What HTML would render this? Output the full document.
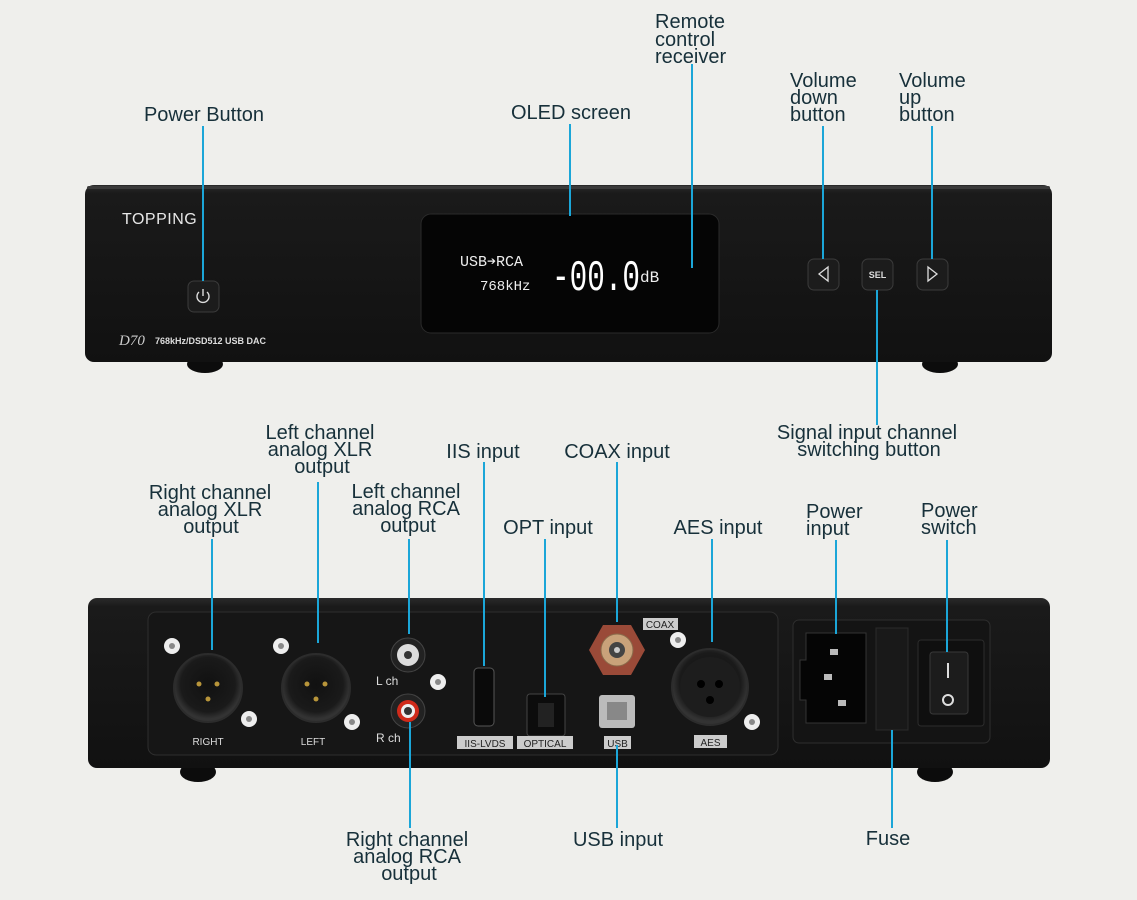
<!DOCTYPE html>
<html><head><meta charset="utf-8"><style>
html,body{margin:0;padding:0;background:#efefec;}
svg{display:block}
text{font-family:"Liberation Sans",sans-serif;}
.l{font-size:20px;fill:#17303a;}
.m{font-family:"Liberation Mono",monospace;}
</style></head><body>
<svg width="1137" height="900" viewBox="0 0 1137 900" xmlns="http://www.w3.org/2000/svg">
<defs>
<linearGradient id="pan" x1="0" y1="0" x2="0" y2="1"><stop offset="0" stop-color="#2a2a2a"/><stop offset="0.05" stop-color="#1a1a1a"/><stop offset="1" stop-color="#111"/></linearGradient>
<radialGradient id="xlr" cx="0.5" cy="0.45" r="0.5"><stop offset="0" stop-color="#111"/><stop offset="0.8" stop-color="#1a1a1a"/><stop offset="1" stop-color="#333"/></radialGradient>
</defs>
<rect width="1137" height="900" fill="#efefec"/>

<!-- FRONT PANEL -->
<ellipse cx="205" cy="364" rx="18" ry="9" fill="#0c0c0c"/>
<ellipse cx="940" cy="364" rx="18" ry="9" fill="#0c0c0c"/>
<rect x="85" y="185" width="967" height="177" rx="9" fill="url(#pan)"/>
<rect x="87" y="186" width="963" height="3" rx="2" fill="#3a3a3a"/>
<text x="122" y="224" fill="#e8e8e8" font-size="16" letter-spacing="0.5">TOPPING</text>
<text x="119" y="345" fill="#ccc" font-size="15" font-style="italic" style="font-family:'Liberation Serif',serif">D70</text>
<text x="155" y="344" fill="#ddd" font-size="9" font-weight="bold">768kHz/DSD512 USB DAC</text>
<rect x="421" y="214" width="298" height="119" rx="10" fill="#050505" stroke="#2a2a2a"/>
<text class="m" x="460" y="266" fill="#eee" font-size="15">USB➔RCA</text>
<text class="m" x="480" y="290" fill="#eee" font-size="14">768kHz</text>
<text class="m" x="552" y="290" fill="#fff" font-size="44" textLength="88" lengthAdjust="spacingAndGlyphs">-00.0</text>
<text class="m" x="640" y="282" fill="#eee" font-size="16">dB</text>
<rect x="188" y="281" width="31" height="31" rx="6" fill="#1c1c1c" stroke="#3b3b3b"/>
<path d="M199 292 a6 6 0 1 0 8 0" fill="none" stroke="#ddd" stroke-width="1.4"/><line x1="203" y1="289" x2="203" y2="296" stroke="#ddd" stroke-width="1.4"/>
<rect x="808" y="259" width="31" height="31" rx="6" fill="#1c1c1c" stroke="#3b3b3b"/>
<path d="M828 267 L819 274 L828 281 Z" fill="none" stroke="#ddd" stroke-width="1.3"/>
<rect x="862" y="259" width="31" height="31" rx="6" fill="#1c1c1c" stroke="#3b3b3b"/>
<text x="877.5" y="278" fill="#ddd" font-size="9" font-weight="bold" text-anchor="middle">SEL</text>
<rect x="917" y="259" width="31" height="31" rx="6" fill="#1c1c1c" stroke="#3b3b3b"/>
<path d="M928 267 L937 274 L928 281 Z" fill="none" stroke="#ddd" stroke-width="1.3"/>

<!-- REAR PANEL -->
<ellipse cx="198" cy="772" rx="18" ry="10" fill="#0c0c0c"/>
<ellipse cx="935" cy="772" rx="18" ry="10" fill="#0c0c0c"/>
<rect x="88" y="598" width="962" height="170" rx="9" fill="url(#pan)"/>
<rect x="148" y="612" width="630" height="143" rx="8" fill="#161616" stroke="#2e2e2e"/>
<rect x="793" y="620" width="197" height="123" rx="6" fill="#141414" stroke="#2e2e2e"/>
<g>
<circle cx="208" cy="688" r="34" fill="url(#xlr)" stroke="#2c2c2c" stroke-width="2"/>
<circle cx="316" cy="688" r="34" fill="url(#xlr)" stroke="#2c2c2c" stroke-width="2"/>
<circle cx="199" cy="684" r="2.5" fill="#b8953a"/><circle cx="217" cy="684" r="2.5" fill="#b8953a"/><circle cx="208" cy="699" r="2.5" fill="#b8953a"/>
<circle cx="307" cy="684" r="2.5" fill="#b8953a"/><circle cx="325" cy="684" r="2.5" fill="#b8953a"/><circle cx="316" cy="699" r="2.5" fill="#b8953a"/>
<circle cx="172" cy="646" r="8" fill="#eee"/><circle cx="172" cy="646" r="3" fill="#888"/>
<circle cx="249" cy="719" r="8" fill="#eee"/><circle cx="249" cy="719" r="3" fill="#888"/>
<circle cx="281" cy="646" r="8" fill="#eee"/><circle cx="281" cy="646" r="3" fill="#888"/>
<circle cx="352" cy="722" r="8" fill="#eee"/><circle cx="352" cy="722" r="3" fill="#888"/>
<circle cx="438" cy="682" r="8" fill="#eee"/><circle cx="438" cy="682" r="3" fill="#888"/>
<circle cx="678" cy="640" r="8" fill="#eee"/><circle cx="678" cy="640" r="3" fill="#888"/>
<circle cx="752" cy="722" r="8" fill="#eee"/><circle cx="752" cy="722" r="3" fill="#888"/>
<text x="208" y="745" fill="#ddd" font-size="10" text-anchor="middle">RIGHT</text>
<text x="313" y="745" fill="#ddd" font-size="10" text-anchor="middle">LEFT</text>
</g>
<circle cx="408" cy="655" r="17" fill="#222" stroke="#444"/><circle cx="408" cy="655" r="11" fill="#ddd"/><circle cx="408" cy="655" r="4" fill="#333"/>
<circle cx="408" cy="711" r="17" fill="#222" stroke="#444"/><circle cx="408" cy="711" r="11" fill="#d02a1a"/><circle cx="408" cy="711" r="7" fill="#eee"/><circle cx="408" cy="711" r="4" fill="#333"/>
<text x="376" y="685" fill="#ddd" font-size="12">L ch</text>
<text x="376" y="742" fill="#ddd" font-size="12">R ch</text>
<rect x="474" y="668" width="20" height="58" rx="4" fill="#0a0a0a" stroke="#555"/>
<rect x="527" y="694" width="38" height="42" rx="3" fill="#0c0c0c" stroke="#444"/>
<rect x="538" y="703" width="16" height="24" fill="#222"/>
<rect x="457" y="736" width="56" height="13" fill="#ccc"/><text x="485" y="747" fill="#222" font-size="10" text-anchor="middle">IIS-LVDS</text>
<rect x="517" y="736" width="56" height="13" fill="#ccc"/><text x="545" y="747" fill="#222" font-size="10" text-anchor="middle">OPTICAL</text>
<polygon points="603,625 631,625 645,650 631,675 603,675 589,650" fill="#9a4a38"/>
<circle cx="617" cy="650" r="16" fill="#c9a27a" stroke="#8a6a4a"/><circle cx="617" cy="650" r="8" fill="#444"/><circle cx="617" cy="650" r="3" fill="#ccc"/>
<rect x="643" y="618" width="35" height="12" fill="#ccc"/><text x="660" y="628" fill="#222" font-size="10" text-anchor="middle">COAX</text>
<rect x="599" y="695" width="36" height="33" rx="3" fill="#bbb"/><rect x="607" y="702" width="20" height="18" fill="#888"/>
<rect x="604" y="736" width="27" height="13" fill="#ccc"/><text x="617.5" y="747" fill="#222" font-size="10" text-anchor="middle">USB</text>
<circle cx="710" cy="687" r="38" fill="url(#xlr)" stroke="#2c2c2c" stroke-width="2"/><circle cx="710" cy="687" r="30" fill="#1d1d1d"/>
<circle cx="701" cy="684" r="4" fill="#000"/><circle cx="719" cy="684" r="4" fill="#000"/><circle cx="710" cy="700" r="4" fill="#000"/>
<rect x="694" y="735" width="33" height="13" fill="#ccc"/><text x="710.5" y="746" fill="#222" font-size="10" text-anchor="middle">AES</text>
<path d="M806 633 H866 V723 H806 V700 H800 V660 H806 Z" fill="#050505" stroke="#333"/>
<rect x="830" y="649" width="8" height="6" fill="#bbb"/><rect x="824" y="674" width="8" height="6" fill="#bbb"/><rect x="838" y="700" width="8" height="6" fill="#bbb"/>
<rect x="876" y="628" width="32" height="102" fill="#191919" stroke="#2a2a2a"/>
<rect x="918" y="640" width="66" height="86" rx="3" fill="#0f0f0f" stroke="#2c2c2c"/>
<rect x="930" y="652" width="38" height="62" rx="3" fill="#1c1c1c" stroke="#383838"/>
<line x1="948" y1="663" x2="948" y2="678" stroke="#ddd" stroke-width="2"/><circle cx="948" cy="700" r="5" fill="none" stroke="#ddd" stroke-width="2"/>

<g stroke="#1ba6d8" stroke-width="2" fill="none">
<line x1="203" y1="126" x2="203" y2="281"/>
<line x1="570" y1="124" x2="570" y2="216"/>
<line x1="692" y1="64" x2="692" y2="268"/>
<line x1="823" y1="126" x2="823" y2="259"/>
<line x1="932" y1="126" x2="932" y2="259"/>
<line x1="877" y1="290" x2="877" y2="425"/>
<line x1="212" y1="539" x2="212" y2="650"/>
<line x1="318" y1="482" x2="318" y2="643"/>
<line x1="409" y1="539" x2="409" y2="634"/>
<line x1="484" y1="462" x2="484" y2="666"/>
<line x1="545" y1="539" x2="545" y2="697"/>
<line x1="617" y1="462" x2="617" y2="622"/>
<line x1="712" y1="539" x2="712" y2="642"/>
<line x1="836" y1="540" x2="836" y2="634"/>
<line x1="947" y1="540" x2="947" y2="652"/>
<line x1="410" y1="722" x2="410" y2="828"/>
<line x1="617" y1="745" x2="617" y2="828"/>
<line x1="892" y1="730" x2="892" y2="828"/>
</g>

<g>
<text class="l" x="204" y="121" text-anchor="middle">Power Button</text>
<text class="l" x="571" y="119" text-anchor="middle">OLED screen</text>
<text class="l" x="655" y="28">Remote</text><text class="l" x="655" y="46">control</text><text class="l" x="655" y="63">receiver</text>
<text class="l" x="790" y="87">Volume</text><text class="l" x="790" y="104">down</text><text class="l" x="790" y="121">button</text>
<text class="l" x="899" y="87">Volume</text><text class="l" x="899" y="104">up</text><text class="l" x="899" y="121">button</text>
<text class="l" x="867" y="439" text-anchor="middle">Signal input channel</text><text class="l" x="869" y="456" text-anchor="middle">switching button</text>
<text class="l" x="210" y="499" text-anchor="middle">Right channel</text><text class="l" x="210" y="516" text-anchor="middle">analog XLR</text><text class="l" x="211" y="533" text-anchor="middle">output</text>
<text class="l" x="320" y="439" text-anchor="middle">Left channel</text><text class="l" x="320" y="456" text-anchor="middle">analog XLR</text><text class="l" x="322" y="473" text-anchor="middle">output</text>
<text class="l" x="406" y="498" text-anchor="middle">Left channel</text><text class="l" x="406" y="515" text-anchor="middle">analog RCA</text><text class="l" x="408" y="532" text-anchor="middle">output</text>
<text class="l" x="483" y="458" text-anchor="middle">IIS input</text>
<text class="l" x="617" y="458" text-anchor="middle">COAX input</text>
<text class="l" x="548" y="534" text-anchor="middle">OPT input</text>
<text class="l" x="718" y="534" text-anchor="middle">AES input</text>
<text class="l" x="806" y="518">Power</text><text class="l" x="806" y="535">input</text>
<text class="l" x="921" y="517">Power</text><text class="l" x="921" y="534">switch</text>
<text class="l" x="407" y="846" text-anchor="middle">Right channel</text><text class="l" x="407" y="863" text-anchor="middle">analog RCA</text><text class="l" x="409" y="880" text-anchor="middle">output</text>
<text class="l" x="618" y="846" text-anchor="middle">USB input</text>
<text class="l" x="888" y="845" text-anchor="middle">Fuse</text>
</g>
</svg>
</body></html>
